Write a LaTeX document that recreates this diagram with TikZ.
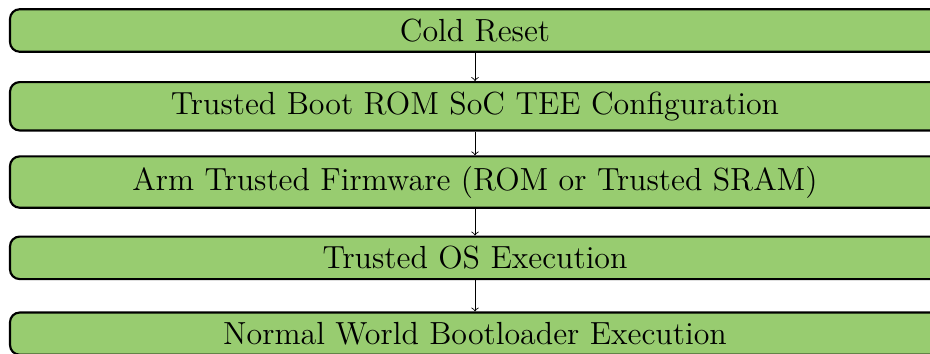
\documentclass[tikz,border=0pt]{standalone}
\usepackage{tikz}
\definecolor{stagegreen}{RGB}{152,204,112}

\begin{document}
\begin{tikzpicture}[font=\fontsize{14.9}{18}\selectfont, node distance=1.241cm,
  stage/.style={draw, line width=1pt, rounded corners=4.5pt, fill=stagegreen, minimum width=15.23cm, inner ysep=4.5pt}]
  \useasboundingbox (0,0) rectangle (15.23,-5.797);
  \node[stage] (reset) at (7.779,-0.4995) {Cold Reset};
  \node[stage, below of=reset] (rom) {Trusted Boot ROM SoC TEE Configuration};
  \node[stage, below of=rom] (atf) {Arm Trusted Firmware (ROM or Trusted SRAM)};
  \node[stage, below of=atf] (tos) {Trusted OS Execution};
  \node[stage, below of=tos] (nwb) {Normal World Bootloader Execution};
  \draw[->] (reset) -- (rom);
  \draw[->] (rom) -- (atf);
  \draw[->] (atf) -- (tos);
  \draw[->] (tos) -- (nwb);
\end{tikzpicture}
\end{document}
